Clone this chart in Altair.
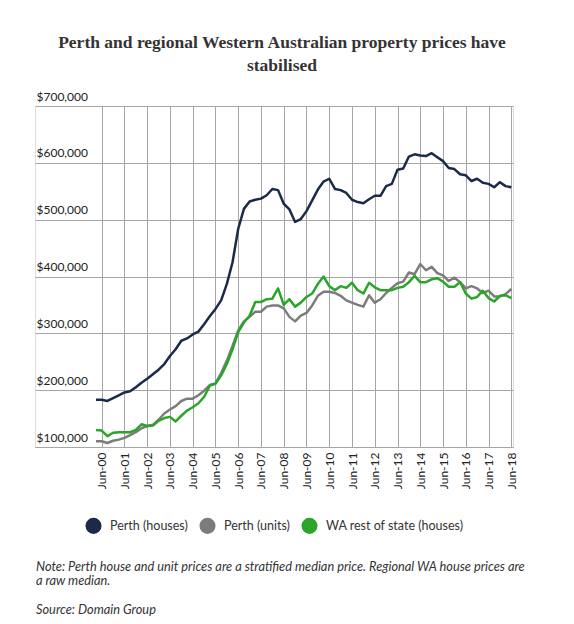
import json
import altair as alt
import pandas as pd

# ---- data (prices in $ thousands, quarterly Mar-00 .. Jun-18) ----
quarters = [f"{m}-{y:02d}" for y in range(0, 19) for m in ("Mar", "Jun", "Sep", "Dec")][:74]

perth_houses = [183, 183, 181, 186, 191, 196, 198, 205, 213, 220, 228, 236,
                246, 260, 272, 287, 291, 298, 303, 316, 330, 343, 358, 387,
                425, 484, 519, 532, 535, 537, 543, 554, 552, 528, 518, 496,
                501, 515, 534, 553, 567, 572, 554, 552, 547, 535, 531, 529,
                536, 542, 542, 559, 563, 588, 590, 611, 615, 613, 612, 617,
                610, 603, 591, 589, 580, 578, 568, 572, 565, 563, 557, 566,
                559, 557]

perth_units = [110, 110, 107, 111, 113, 116, 121, 126, 133, 137, 139, 148,
               159, 166, 172, 181, 185, 185, 191, 199, 209, 212, 230, 252,
               278, 305, 321, 329, 338, 338, 347, 349, 349, 344, 329, 321,
               331, 336, 349, 366, 373, 373, 371, 366, 358, 354, 350, 347,
               367, 354, 360, 371, 380, 388, 391, 407, 404, 422, 411, 417,
               406, 402, 392, 398, 390, 379, 383, 379, 371, 375, 365, 365,
               369, 378]

wa_rest = [130, 129, 119, 125, 126, 126, 126, 130, 140, 137, 138, 146,
           151, 153, 145, 155, 164, 170, 177, 188, 208, 211, 226, 246,
           272, 302, 319, 331, 355, 355, 360, 361, 379, 350, 360, 347,
           354, 364, 370, 387, 400, 383, 376, 383, 380, 389, 376, 370,
           389, 381, 376, 376, 376, 380, 382, 390, 401, 390, 390, 395,
           397, 391, 382, 382, 390, 370, 361, 364, 375, 362, 356, 366,
           367, 362]

series_names = ["Perth (houses)", "Perth (units)", "WA rest of state (houses)"]
series_colors = ["#1b2a4a", "#7c7c7c", "#2aa52a"]

x_ticks = list(range(19))
x_tick_labels = [f"Jun-{y:02d}" for y in range(19)]
y_ticks = [100000, 200000, 300000, 400000, 500000, 600000, 700000]

title_lines = ["Perth and regional Western Australian property prices have", "stabilised"]
note_lines = ["Note: Perth house and unit prices are a stratified median price. Regional WA house prices are",
              "a raw median."]
source_text = "Source: Domain Group"

# ---- table ----
rows = []
for name, vals in zip(series_names, [perth_houses, perth_units, wa_rest]):
    for i, (q, v) in enumerate(zip(quarters, vals)):
        rows.append({"quarter": q, "t": (i - 1) * 0.25, "price": v * 1000, "series": name})
df = pd.DataFrame(rows)

W, H = 478, 341
FONT = "Lato"

# legend symbol: concentric stroked rings that read as a filled disc
ring_radii = [0.85, 0.68, 0.51, 0.34, 0.17, 0.04]
disc_path = " ".join(f"M{-r},0A{r},{r} 0 1,0 {r},0A{r},{r} 0 1,0 {-r},0" for r in ring_radii)

lines = alt.Chart(df).mark_line(strokeJoin="round").encode(
    x=alt.X("t:Q",
            scale=alt.Scale(domain=[-2.931, 18.075], nice=False, zero=False),
            axis=alt.Axis(values=x_ticks, title=None, labelAngle=270,
                          labelExpr=f"{json.dumps(x_tick_labels)}[datum.value]",
                          grid=True, ticks=False, tickSize=0, labelPadding=5,
                          labelFont=FONT, labelFontSize=12, labelColor="#222",
                          domainColor="#a6a6a6", gridColor="#a6a6a6")),
    y=alt.Y("price:Q",
            scale=alt.Scale(domain=[100000, 700000], nice=False, zero=False),
            axis=alt.Axis(values=y_ticks, format="$,.0f", title=None,
                          grid=True, gridColor="#a6a6a6", domain=False,
                          ticks=False, tickSize=0, labelAlign="left",
                          labelBaseline="alphabetic", labelPadding=-1,
                          labelOffset=-6, labelFlush=False, labelOverlap=False,
                          labelFont=FONT, labelFontSize=12, labelColor="#222")),
    color=alt.Color("series:N",
                    scale=alt.Scale(domain=series_names, range=series_colors),
                    legend=alt.Legend(title=None, orient="none", legendX=49, legendY=410,
                                      direction="horizontal", symbolType=disc_path,
                                      symbolSize=256, symbolStrokeWidth=2.5,
                                      labelFont=FONT, labelFontSize=12.5,
                                      labelColor="#333", labelOffset=7,
                                      columnPadding=7)),
    strokeWidth=alt.value(2.5),
    detail="series:N",
)

note_style = dict(align="left", baseline="middle", font=FONT, fontSize=12.8,
                  fontStyle="italic", color="#333")
note1 = alt.Chart(pd.DataFrame({"txt": [note_lines[0]]})).mark_text(**note_style).encode(
    x=alt.value(1), y=alt.value(461), text="txt:N")
note2 = alt.Chart(pd.DataFrame({"txt": [note_lines[1]]})).mark_text(**note_style).encode(
    x=alt.value(1), y=alt.value(475), text="txt:N")
source = alt.Chart(pd.DataFrame({"txt": [source_text]})).mark_text(**note_style).encode(
    x=alt.value(1), y=alt.value(504), text="txt:N")

chart = alt.layer(lines, note1, note2, source).properties(
    width=W, height=H,
    title=alt.TitleParams(text=title_lines, font="Liberation Serif", fontSize=17.5,
                          fontWeight="bold", color="#333", anchor="middle",
                          lineHeight=23, offset=16, dx=8),
    autosize=alt.AutoSizeParams(type="none"),
    padding={"left": 27, "top": 98, "right": 50, "bottom": 172},
).configure_view(stroke=None).configure(background="white")

chart.save("out.html", embed_options={"renderer": "svg", "actions": False})
